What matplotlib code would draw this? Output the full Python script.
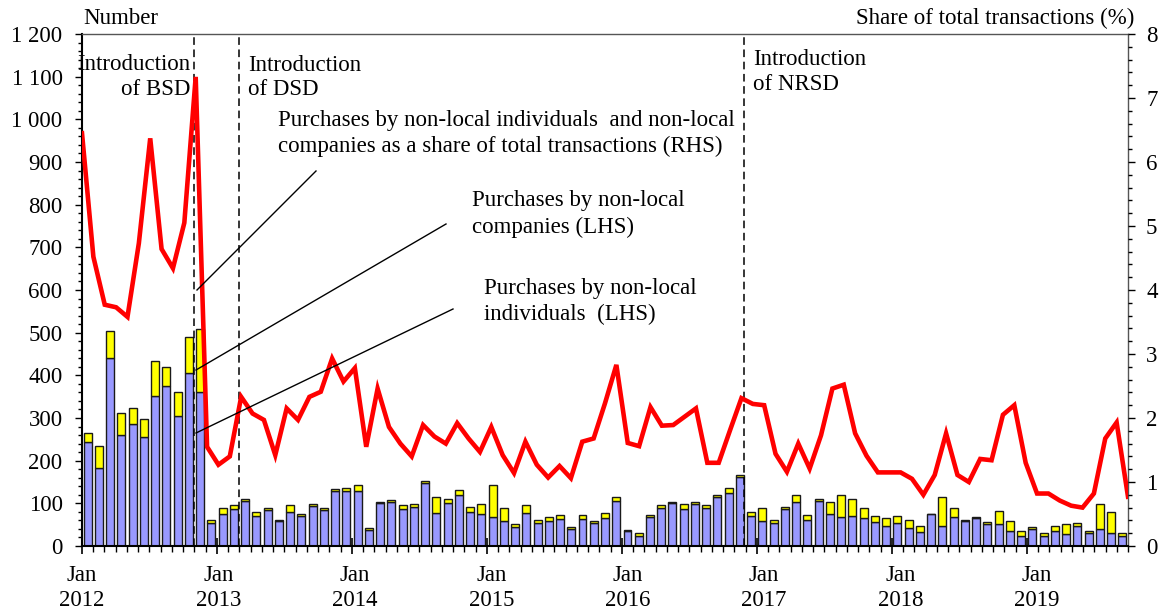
import matplotlib
matplotlib.use("Agg")
import matplotlib.pyplot as plt
from matplotlib.ticker import MultipleLocator, FixedLocator, FuncFormatter
from matplotlib.lines import Line2D
import numpy as np

# ---------------- data (Jan 2012 - Sep 2019, monthly) ----------------
years = ["2012", "2013", "2014", "2015", "2016", "2017", "2018", "2019"]

individuals = [
    243, 183, 440, 261, 285, 256, 351, 376, 305, 405, 361, 54,    # 2012
    74, 87, 106, 70, 85, 58, 80, 70, 94, 84, 128, 128,            # 2013
    130, 38, 100, 102, 87, 91, 147, 78, 100, 119, 80, 74,         # 2014
    68, 59, 44, 77, 55, 59, 64, 41, 64, 55, 65, 105,              # 2015
    36, 23, 67, 90, 101, 86, 99, 90, 114, 125, 161, 70,           # 2016
    59, 55, 86, 103, 62, 105, 74, 68, 71, 65, 57, 48,             # 2017
    54, 42, 33, 74, 48, 68, 59, 65, 51, 51, 34, 24,               # 2018
    41, 24, 36, 27, 48, 30, 39, 30, 24,                           # 2019
]

companies = [
    23, 51, 64, 50, 38, 41, 83, 43, 57, 84, 148, 6,
    16, 8, 4, 10, 5, 4, 16, 5, 4, 5, 5, 8,
    13, 5, 4, 5, 8, 8, 5, 38, 11, 12, 12, 25,
    75, 29, 7, 18, 7, 10, 8, 4, 8, 4, 13, 11,
    1, 8, 5, 5, 3, 12, 5, 5, 5, 11, 5, 10,
    29, 7, 6, 16, 10, 5, 30, 51, 38, 23, 14, 17,
    17, 20, 15, 1, 67, 20, 3, 3, 5, 32, 25, 12,
    4, 6, 12, 24, 7, 6, 59, 50, 6,
]

share_pct = [
    6.45, 4.52, 3.77, 3.73, 3.58, 4.73, 6.37, 4.64, 4.34, 5.05, 7.33, 1.55,
    1.27, 1.40, 2.33, 2.07, 1.97, 1.42, 2.15, 1.97, 2.33, 2.41, 2.93, 2.57,
    2.78, 1.55, 2.46, 1.86, 1.60, 1.40, 1.89, 1.71, 1.60, 1.92, 1.68, 1.47,
    1.86, 1.42, 1.14, 1.63, 1.27, 1.07, 1.25, 1.06, 1.63, 1.68, 2.23, 2.83,
    1.61, 1.56, 2.17, 1.88, 1.89, 2.02, 2.15, 1.30, 1.30, 1.81, 2.31, 2.22,
    2.20, 1.44, 1.16, 1.60, 1.21, 1.73, 2.46, 2.52, 1.76, 1.41, 1.15, 1.15,
    1.15, 1.05, 0.80, 1.11, 1.76, 1.11, 1.00, 1.36, 1.34, 2.05, 2.20, 1.30,
    0.82, 0.82, 0.71, 0.63, 0.60, 0.82, 1.68, 1.93, 0.77,
]

# policy events (month position on the category axis)
events = [10.0, 13.95, 58.9]

# ---------------- style ----------------
FONT = "Liberation Serif"
FS = 16.5
plt.rcParams["font.family"] = [FONT, "DejaVu Serif"]
plt.rcParams["font.size"] = FS

W, H = 1163, 613
fig = plt.figure(figsize=(W / 100, H / 100), dpi=100)

L, R, T, B = 82, 1128, 34, 546
rect = [L / W, 1 - B / H, (R - L) / W, (B - T) / H]
ax = fig.add_axes(rect)

n = len(individuals)
xpos = np.arange(n) + 0.5
ind = np.array(individuals)
comp = np.array(companies)

ax.bar(xpos, ind, width=0.71, color="#9999FF", edgecolor="#1a1a1a", linewidth=1.0, zorder=2)
ax.bar(xpos, comp, bottom=ind, width=0.71, color="#FFFF00", edgecolor="#1a1a1a", linewidth=1.0, zorder=2)

ax.set_xlim(0, n)
ax.set_ylim(0, 1200)

for ev in events:
    ax.axvline(ev, color="black", linestyle=(0, (5, 3)), linewidth=1.1, zorder=3)

# left axis
ax.yaxis.set_major_locator(MultipleLocator(100))
ax.yaxis.set_minor_locator(MultipleLocator(20))
ax.yaxis.set_major_formatter(FuncFormatter(lambda v, p: f"{int(v):,}".replace(",", " ")))
ax.tick_params(axis="y", which="major", direction="out", length=5, width=1, pad=9, labelsize=FS)
ax.tick_params(axis="y", which="minor", direction="out", length=3, width=1)

# x axis ticks on the bar axis (month boundaries)
ax.xaxis.set_major_locator(FixedLocator(np.arange(0, n + 1, 12)))
ax.xaxis.set_minor_locator(FixedLocator(np.arange(0, n + 1, 1)))
ax.tick_params(axis="x", which="major", direction="inout", length=12, width=1.2, labelbottom=False)
ax.tick_params(axis="x", which="minor", direction="out", length=4, width=1)

for sp in ["left", "bottom"]:
    ax.spines[sp].set_linewidth(1.5)
    ax.spines[sp].set_color("black")
for sp in ["top", "right"]:
    ax.spines[sp].set_linewidth(1.0)
    ax.spines[sp].set_color("#555555")

# line on its own category axis (points on tick marks)
ax2 = fig.add_axes(rect, frameon=False)
ax2.patch.set_visible(False)
ax2.plot(np.arange(n), share_pct, color="#FF0000", linewidth=3.3, solid_joinstyle="miter", zorder=4)
ax2.set_xlim(0, n - 1)
ax2.set_ylim(0, 8)
ax2.yaxis.tick_right()
ax2.yaxis.set_major_locator(MultipleLocator(1))
ax2.yaxis.set_minor_locator(MultipleLocator(0.2))
ax2.tick_params(axis="y", which="major", direction="out", length=5, width=1, pad=8, labelsize=FS)
ax2.tick_params(axis="y", which="minor", direction="out", length=3, width=1)
ax2.set_xticks(np.arange(0, n, 12))
ax2.set_xticklabels([f"Jan\n{y}" for y in years], linespacing=1.25)
ax2.tick_params(axis="x", length=0, pad=14, labelsize=FS)

# ---------------- texts ----------------
def fx(px):
    return px / W

def fy(py):
    return 1 - py / H

fig.text(fx(83), fy(18), "Number", ha="left", va="center", fontsize=FS)
fig.text(fx(1134), fy(18), "Share of total transactions (%)", ha="right", va="center", fontsize=FS)

fig.text(fx(190), fy(77), "Introduction\nof BSD", ha="right", va="center", multialignment="right",
         fontsize=FS, linespacing=1.2)
fig.text(fx(248), fy(77.5), "Introduction\nof DSD", ha="left", va="center", fontsize=FS, linespacing=1.2)
fig.text(fx(753), fy(72), "Introduction\nof NRSD", ha="left", va="center", fontsize=FS, linespacing=1.2)

fig.text(fx(278), fy(133.5),
         "Purchases by non-local individuals  and non-local\ncompanies as a share of total transactions (RHS)",
         ha="left", va="center", fontsize=FS, linespacing=1.35)
fig.text(fx(472), fy(214), "Purchases by non-local\ncompanies (LHS)", ha="left", va="center",
         fontsize=FS, linespacing=1.35)
fig.text(fx(484), fy(301.5), "Purchases by non-local\nindividuals  (LHS)", ha="left", va="center",
         fontsize=FS, linespacing=1.35)

leaders = [((316, 171), (197, 290)), ((446, 224), (196, 370)), ((453, 309), (196, 433))]
for (x0, y0), (x1, y1) in leaders:
    fig.add_artist(Line2D([fx(x0), fx(x1)], [fy(y0), fy(y1)], transform=fig.transFigure,
                          color="black", linewidth=1.0, zorder=10))

fig.savefig("out.png", dpi=100)
